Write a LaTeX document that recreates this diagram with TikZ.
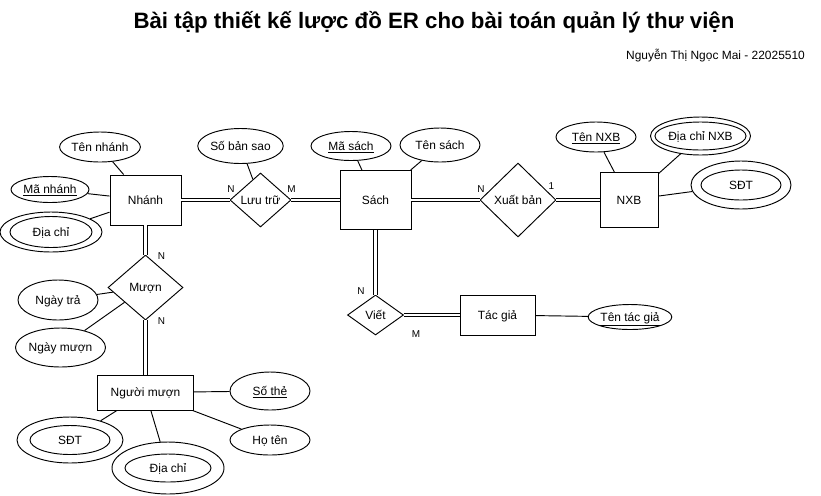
\documentclass[tikz,border=0pt]{standalone}
\usepackage{fontspec}
\setmainfont{Liberation Sans}
\usetikzlibrary{shapes.geometric, positioning}

\newcommand{\upx}{0.03cm}

\begin{document}
\begin{tikzpicture}[
    x=0.03cm, y=-0.03cm,
    font=\fontsize{10.2}{12}\selectfont,
    dim/.style 2 args={minimum width=#1*\upx, minimum height=#2*\upx},
    txt/.style={text height=9.2pt, text depth=2pt},
    entity/.style={rectangle, draw, line width=0.8pt, inner sep=0pt, txt},
    relation/.style={diamond, draw, line width=0.8pt, inner sep=0pt, txt},
    attr/.style={ellipse, draw, line width=0.8pt, inner sep=0pt, txt},
    line/.style={draw, line width=0.8pt},
    link/.style={draw, line width=0.8pt, double, double distance=2.2pt},
    card/.style={font=\fontsize{8.5}{10}\selectfont, inner sep=0pt}
]
    \useasboundingbox (0,0) rectangle (821,495);

    % Title
    \node [anchor=base] (title) at (434,28) {\fontsize{19}{22}\selectfont\bfseries Bài tập thiết kế lược đồ ER cho bài toán quản lý thư viện};
    \node [anchor=base east] (author) at (809,59) {Nguyễn Thị Ngọc Mai - 22025510};

    % Entities
    \node [entity, dim={71}{50}] (nhanh) at (145.5,200) {Nhánh};
    \node [entity, dim={71}{59}] (sach) at (375.5,200) {Sách};
    \node [entity, dim={58}{55}] (nxb) at (629,200) {NXB};
    \node [entity, dim={96}{35}] (nguoimuon) at (145.5,392.5) {Người mượn};
    \node [entity, dim={75}{40}] (tacgia) at (497.5,315) {Tác giả};

    % Relationships
    \node [relation, dim={61}{54}] (luutru) at (260.5,200) {Lưu trữ};
    \node [relation, dim={76}{74}] (xuatban) at (518,200) {Xuất bản};
    \node [relation, dim={75}{65}] (muon) at (145.5,287.5) {Mượn};
    \node [relation, dim={56}{40}] (viet) at (375.5,315) {Viết};

    % Attributes of Nhánh
    \node [attr, dim={80}{30}] (tennhanh) at (100,147) {Tên nhánh};
    \node [attr, dim={78}{26}] (manhanh) at (50,189.5) {\underline{Mã nhánh}};
    \node [attr, dim={102}{40}] (diachi) at (51,232) {};
    \node [attr, dim={82}{31}] (diachi-in) at (51,232) {Địa chỉ};

    % Attributes of Lưu trữ and Sách
    \node [attr, dim={80}{35}] (sobansao) at (240.5,146) {Số bản sao};
    \node [attr, dim={80}{29}] (masach) at (351,146) {\underline{Mã sách}};
    \node [attr, dim={80}{34}] (tensach) at (440,145) {Tên sách};

    % Attributes of NXB
    \node [attr, dim={80}{30}] (tennxb) at (596,137) {\underline{Tên NXB}};
    \node [attr, dim={100}{38}] (diachinxb) at (700.5,136) {};
    \node [attr, dim={80}{28}] (diachinxb-in) at (700.5,136) {Địa chỉ NXB};
    \node [attr, dim={100}{48}] (sdtnxb) at (741,185) {};
    \node [attr, dim={80}{30}] (sdtnxb-in) at (741,185) {SĐT};

    % Attributes of Mượn
    \node [attr, dim={80}{40}] (ngaytra) at (58,300) {Ngày trả};
    \node [attr, dim={80}{39}] (ngaymuon) at (60.5,347.5) {Ngày mượn};

    % Attributes of Người mượn
    \node [attr, dim={80}{38}] (sothe) at (270,391) {\underline{Số thẻ}};
    \node [attr, dim={80}{30}] (hoten) at (270,440) {Họ tên};
    \node [attr, dim={106}{46}] (sdt) at (70,440) {};
    \node [attr, dim={80}{29}] (sdt-in) at (70,440) {SĐT};
    \node [attr, dim={112}{52}] (diachinm) at (168,468) {};
    \node [attr, dim={86}{28}] (diachinm-in) at (168,468) {Địa chỉ};

    % Attribute of Tác giả
    \node [attr, dim={82}{25}] (tentacgia) at (630,317) {\underline{Tên tác giả}};

    % Attribute links
    \path [line] (tennhanh) -- (nhanh);
    \path [line] (manhanh) -- (nhanh);
    \path [line] (diachi) -- (nhanh);
    \path [line] (sobansao) -- (luutru);
    \path [line] (masach) -- (sach);
    \path [line] (tensach) -- (sach);
    \path [line] (tennxb) -- (nxb);
    \path [line] (diachinxb) -- (nxb);
    \path [line] (sdtnxb) -- (nxb);
    \path [line] (ngaytra) -- (muon);
    \path [line] (ngaymuon) -- (muon);
    \path [line] (sothe) -- (nguoimuon);
    \path [line] (hoten) -- (nguoimuon);
    \path [line] (sdt) -- (nguoimuon);
    \path [line] (diachinm) -- (nguoimuon);
    \path [line] (tentacgia) -- (tacgia);

    % Relationship links
    \path [link] (nhanh) -- (luutru);
    \path [link] (luutru) -- (sach);
    \path [link] (sach) -- (xuatban);
    \path [link] (xuatban) -- (nxb);
    \path [link] (nhanh) -- (muon);
    \path [link] (muon) -- (nguoimuon);
    \path [link] (sach) -- (viet);
    \path [link] (viet) -- (tacgia);

    % Cardinalities
    \node [card] (c1) at (231,189) {N};
    \node [card] (c2) at (291.5,189) {M};
    \node [card] (c3) at (481,189) {N};
    \node [card] (c4) at (551.5,186) {1};
    \node [card] (c5) at (161.5,256.5) {N};
    \node [card] (c6) at (161.5,321) {N};
    \node [card] (c7) at (361,291) {N};
    \node [card] (c8) at (416,334) {M};

\end{tikzpicture}
\end{document}
